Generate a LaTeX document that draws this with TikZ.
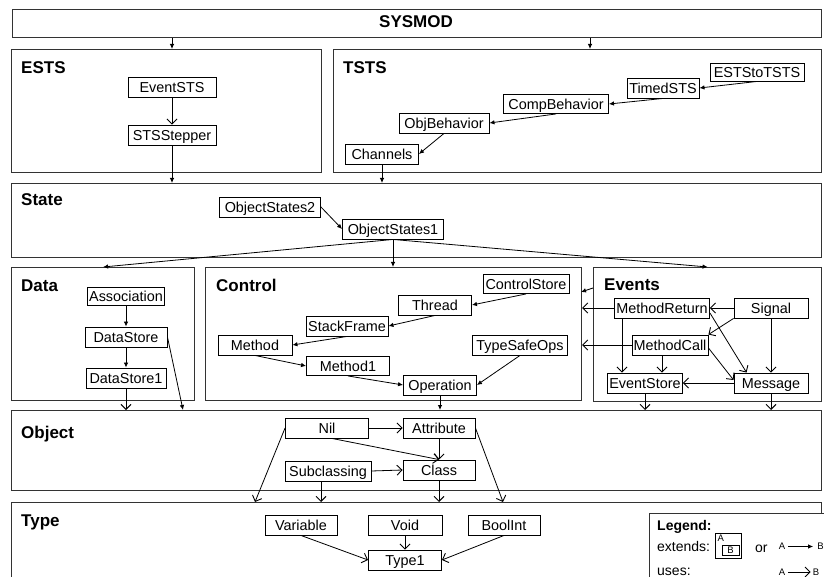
\documentclass[tikz,border=0pt]{standalone}
\usepackage{fontspec}
\setmainfont{Liberation Sans}
\usetikzlibrary{arrows.meta,calc}
\begin{document}
\begin{tikzpicture}[x=1pt,y=-1pt,
 frame/.style={draw=black!80, line width=1.2pt, inner sep=0pt, anchor=north west},
 cls/.style={draw, line width=0.9pt, inner sep=0pt, minimum height=20pt, font=\fontsize{14.4}{16}\selectfont, text height=11.6pt, text depth=0pt},
 ttl/.style={anchor=west, inner sep=0pt, font=\bfseries\fontsize{17}{19}\selectfont, text height=12.3pt, text depth=0pt},
 lgt/.style={anchor=west, inner sep=0pt, font=\fontsize{14}{16}\selectfont, text height=10.3pt, text depth=0pt},
 sml/.style={inner sep=0pt, font=\fontsize{9.5}{11}\selectfont},
 ext/.style={-{Latex[length=5pt,width=4.5pt]}, line width=0.8pt},
 use/.style={-{Straight Barb[length=5pt,width=10pt,line width=0.9pt]}, line width=0.8pt},
]
\useasboundingbox (0,0) rectangle (824,577);
\clip (0,0) rectangle (824,577);

% frames
\node[frame, minimum width=809pt, minimum height=28pt] (sysmod) at (12,9) {};
\node[frame, minimum width=310pt, minimum height=123pt] (ests) at (11,49) {};
\node[frame, minimum width=488pt, minimum height=123pt] (tsts) at (333,49) {};
\node[frame, minimum width=810pt, minimum height=74pt] (state) at (11,183) {};
\node[frame, minimum width=183pt, minimum height=133pt] (data) at (11,267) {};
\node[frame, minimum width=376pt, minimum height=133pt] (control) at (205,267) {};
\node[frame, minimum width=228pt, minimum height=134pt] (events) at (593,267) {};
\node[frame, minimum width=810pt, minimum height=80pt] (object) at (11,410) {};
\node[frame, minimum width=810pt, minimum height=120pt] (type) at (11,502) {};

% titles
\node[inner sep=0pt, font=\bfseries\fontsize{17}{19}\selectfont] (sysmodt) at (416,22) {SYSMOD};
\node[ttl] (estst) at (21,67) {ESTS};
\node[ttl] (tstst) at (343,67) {TSTS};
\node[ttl] (statet) at (21,199) {State};
\node[ttl] (datat) at (21,285) {Data};
\node[ttl] (controlt) at (216,285) {Control};
\node[ttl] (eventst) at (604,284) {Events};
\node[ttl] (objectt) at (21,432) {Object};
\node[ttl] (typet) at (21,520) {Type};

% ESTS
\node[cls, minimum width=88pt] (eventsts) at (172,87) {EventSTS};
\node[cls, minimum width=88pt] (stsstepper) at (172,135) {STSStepper};
% TSTS
\node[cls, minimum width=94pt, minimum height=18pt] (eststotsts) at (757,72) {ESTStoTSTS};
\node[cls, minimum width=72pt] (timedsts) at (663,88) {TimedSTS};
\node[cls, minimum width=105pt, minimum height=19pt] (compbehavior) at (556,104) {CompBehavior};
\node[cls, minimum width=90pt] (objbehavior) at (444,123) {ObjBehavior};
\node[cls, minimum width=73pt] (channels) at (382,154) {Channels};
% State
\node[cls, minimum width=101pt] (os2) at (270,207) {ObjectStates2};
\node[cls, minimum width=101pt] (os1) at (393,229) {ObjectStates1};
% Data
\node[cls, minimum width=77pt, minimum height=18pt] (association) at (126,296) {Association};
\node[cls, minimum width=82pt] (datastore) at (126,337) {DataStore};
\node[cls, minimum width=80pt] (datastore1) at (126,378) {DataStore1};
% Control
\node[cls, minimum width=86pt, minimum height=19pt] (controlstore) at (526,284) {ControlStore};
\node[cls, minimum width=73pt] (thread) at (435,305) {Thread};
\node[cls, minimum width=82pt] (stackframe) at (347,326) {StackFrame};
\node[cls, minimum width=74pt] (method) at (255,345) {Method};
\node[cls, minimum width=83pt, minimum height=19pt] (method1) at (348,366) {Method1};
\node[cls, minimum width=73pt] (operation) at (440,385) {Operation};
\node[cls, minimum width=95pt] (typesafeops) at (520,345) {TypeSafeOps};
% Events
\node[cls, minimum width=95pt] (methodreturn) at (662,308) {MethodReturn};
\node[cls, minimum width=74pt] (signal) at (771,308) {Signal};
\node[cls, minimum width=76pt] (methodcall) at (670,345) {MethodCall};
\node[cls, minimum width=75pt] (eventstore) at (645,383) {EventStore};
\node[cls, minimum width=74pt] (message) at (771,383) {Message};
% Object
\node[cls, minimum width=83pt] (nil) at (327,428) {Nil};
\node[cls, minimum width=72pt] (attribute) at (439,428) {Attribute};
\node[cls, minimum width=86pt] (subclassing) at (328,471) {Subclassing};
\node[cls, minimum width=72pt] (class) at (439,470) {Class};
% Type
\node[cls, minimum width=72pt] (variable) at (301,525) {Variable};
\node[cls, minimum width=74pt] (void) at (405,525) {Void};
\node[cls, minimum width=72pt] (boolint) at (504,525) {BoolInt};
\node[cls, minimum width=73pt] (type1) at (405,560) {Type1};

% helper coordinates
\coordinate (xt) at (590,0);
\coordinate (xd) at (183,0);
\coordinate (ea) at (593,288);
\coordinate (eb) at (581,292);
\coordinate (xmr) at (622,0);
\coordinate (xmc) at (662,0);
\coordinate (xn) at (255,0);
\coordinate (xs) at (321,0);
\coordinate (xa) at (503,0);

% connectors: top
\draw[ext] (sysmod.south -| eventsts) -- (ests.north -| eventsts);
\draw[ext] (sysmod.south -| xt) -- (tsts.north -| xt);
\draw[use] (eventsts) -- (stsstepper);
\draw[ext] (stsstepper.south) -- (state.north -| stsstepper);
\draw[ext] (channels.south) -- (state.north -| channels);
\draw[ext] (eststotsts.south) -- (timedsts.east);
\draw[ext] (timedsts.south) -- (compbehavior.east);
\draw[ext] (compbehavior.south) -- (objbehavior.east);
\draw[ext] (objbehavior.south) -- (channels.east);
% State
\draw[ext] (os2.east) -- (os1.west);
\draw[ext] (os1.south) -- (data.north);
\draw[ext] (os1.south) -- (control.north -| os1);
\draw[ext] (os1.south) -- (events.north);
% Data
\draw[ext] (association) -- (datastore);
\draw[ext] (datastore) -- (datastore1);
\draw[use] (datastore1.south) -- (object.north -| datastore1);
\draw[ext] (datastore.east) -- (object.north -| xd);
% Control
\draw[ext] (controlstore.south) -- (thread.east);
\draw[ext] (thread.south) -- (stackframe.east);
\draw[ext] (stackframe.south) -- (method.east);
\draw[ext] (method.south) -- (method1.west);
\draw[ext] (method1.south) -- (operation.west);
\draw[ext] (typesafeops.south) -- (operation.east);
\draw[ext] (operation.south) -- (object.north -| operation);
% Events
\draw[ext] (ea) -- (eb);
\draw[use] (methodreturn.west) -- (control.east |- methodreturn.west);
\draw[use] (methodcall.west) -- (control.east |- methodcall.west);
\draw[use] (signal.west) -- (methodreturn.east);
\draw[use] (signal.south west) -- (methodcall.north east);
\draw[use] (signal.south) -- (message.north);
\draw[use] ($(methodreturn.east)+(0,5)$) -- ($(message.north west)+(13,0)$);
\draw[use] (methodreturn.south -| xmr) -- (eventstore.north -| xmr);
\draw[use] (methodcall.south -| xmc) -- (eventstore.north -| xmc);
\draw[use] ($(methodcall.east)+(0,3)$) -- ($(message.west)+(0,-3)$);
\draw[use] (message.west) -- (eventstore.east);
\draw[use] (eventstore.south) -- (object.north -| eventstore);
\draw[use] (message.south) -- (object.north -| message);
% Object
\draw[use] (nil.east) -- (attribute.west);
\draw[use] ($(nil.south)+(5,0)$) -- (class.north);
\draw[use] (attribute.south) -- (class.north);
\draw[use] (subclassing.east) -- (class.west);
\draw[use] (nil.west) -- (type.north -| xn);
\draw[use] (subclassing.south -| xs) -- (type.north -| xs);
\draw[use] (class.south) -- (type.north -| class);
\draw[use] (attribute.east) -- (type.north -| xa);
% Type
\draw[use] (variable.south) -- (type1.west);
\draw[use] (void.south) -- (type1.north);
\draw[use] (boolint.south) -- (type1.east);

% Legend
\node[frame, draw=black!80, line width=1pt, fill=white, minimum width=200pt, minimum height=100pt] (legend) at (649,513) {};
\node[anchor=west, inner sep=0pt, font=\bfseries\fontsize{14}{16}\selectfont, text height=10.3pt, text depth=0pt] (legendt) at (657,525) {Legend:};
\node[lgt] (extt) at (657,546) {extends:};
\node[draw, line width=0.8pt, minimum width=26pt, minimum height=25pt, inner sep=0pt] (lgouter) at (728,545.5) {};
\node[sml, anchor=north west] (lgA) at (717.5,535) {A};
\node[draw, line width=0.8pt, sml, minimum width=17pt, minimum height=10pt] (lgB) at (730.5,550.5) {B};
\node[lgt] (ort) at (755,547) {or};
\node[sml] (lga1) at (782,546.5) {A};
\node[sml] (lgb1) at (820.5,546.5) {B};
\draw[ext] (lga1.east) ++(3,0) -- ($(lgb1.west)+(-4,0)$);
\node[lgt] (usest) at (657,570) {uses:};
\node[sml] (lga2) at (782,572) {A};
\node[sml] (lgb2) at (816,572) {B};
\draw[use] ($(lga2.east)+(3,0)$) -- ($(lgb2.west)+(-2,0)$);
\end{tikzpicture}
\end{document}
